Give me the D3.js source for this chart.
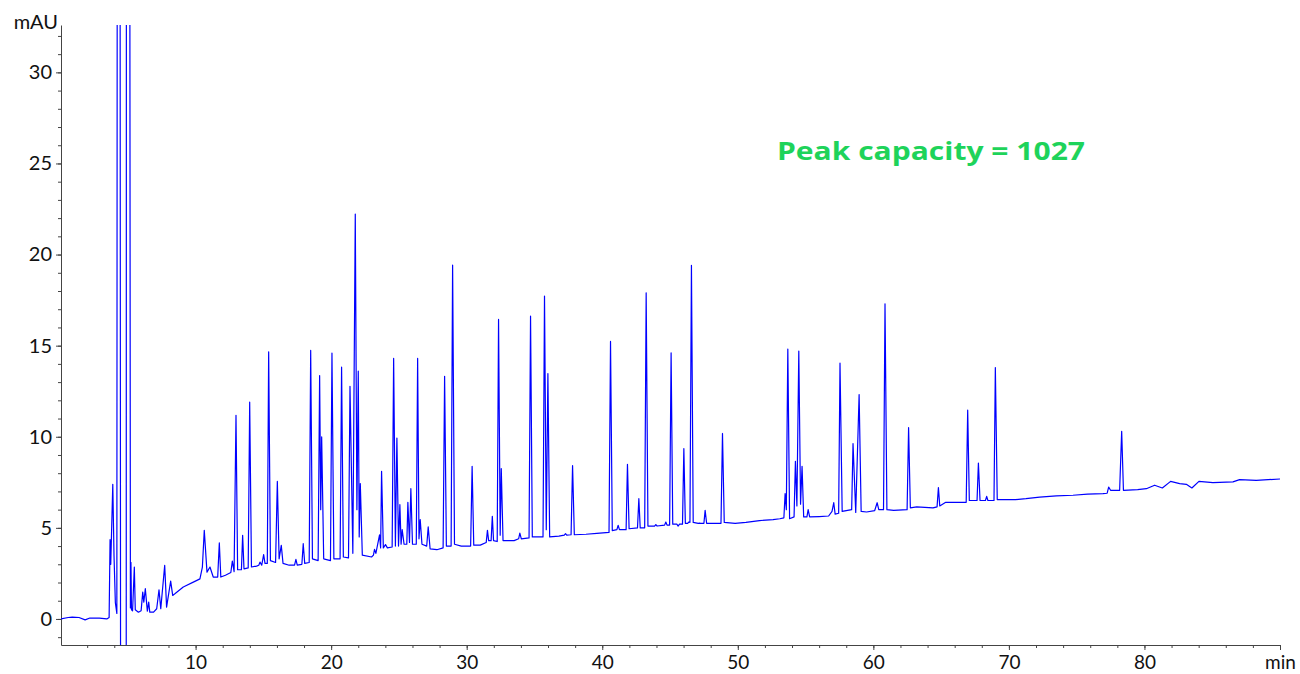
<!DOCTYPE html>
<html>
<head>
<meta charset="utf-8">
<script src="https://cdn.jsdelivr.net/npm/d3@7"></script>
<style>
  body { margin: 0; background: #fff; }
  svg text { font-family: Lato, "Noto Sans", sans-serif; }
  .axis path, .axis line { stroke: #444; }
  .axis text { fill: #111; font-size: 20px; }
  .axis.xlab text { font-size: 19px; }
</style>
</head>
<body>
<svg class="chart" width="1300" height="674"></svg>
<script>
// retention time (min) / absorbance (mAU) vertices
// start of the run, injection disturbance and off-scale solvent peaks
var earlyTrace = [
  [0.07, 0.0], [0.6, 0.08], [0.9, 0.1], [1.4, 0.08], [1.85, -0.05], [2.2, 0.05],
  [2.9, 0.05], [3.45, 0.0], [3.62, 0.08], [3.69, 4.35], [3.74, 3.0], [3.89, 7.39],
  [3.98, 3.5], [4.08, 0.9], [4.19, 0.3], [4.235, 60], [4.41, 60], [4.47, -10],
  [4.88, -10], [4.9, 60], [5.12, 60], [5.19, 0.6], [5.23, 3.1], [5.27, 0.5],
  [5.35, 0.45], [5.48, 2.85], [5.55, 0.5], [5.78, 0.37], [5.98, 0.45], [6.1, 1.47],
  [6.18, 0.92], [6.29, 1.66], [6.44, 0.43], [6.54, 0.92], [6.62, 0.37], [6.9, 0.37],
  [7.13, 0.56], [7.3, 1.6], [7.43, 0.56], [7.72, 2.94], [7.86, 0.65], [8.16, 2.08],
  [8.31, 1.29], [8.47, 1.38], [9.09, 1.75], [9.83, 2.02], [10.32, 2.2], [10.5, 2.85],
  [10.64, 4.86], [10.84, 2.57], [11.06, 2.85], [11.3, 2.3]
]

// peak apexes
var apexes = [
  [11.75, 4.17], [12.71, 3.18], [12.98, 11.18], [13.47, 4.59], [13.99, 11.9],
  [14.75, 3.12], [15.02, 3.53], [15.39, 14.66], [16.03, 7.55], [16.32, 4.04],
  [17.4, 3.27], [17.94, 4.13], [18.49, 14.74], [19.15, 13.36], [19.3, 9.99],
  [20.06, 14.59], [20.77, 13.82], [21.39, 12.77], [21.78, 22.22], [22.0, 13.6],
  [22.15, 7.43], [23.2, 3.82], [23.57, 4.62], [23.72, 8.1], [24.01, 4.08],
  [24.61, 14.3], [24.85, 9.93], [25.07, 6.27], [25.24, 4.9], [25.66, 6.4],
  [25.88, 7.15], [26.38, 14.3], [26.57, 5.45], [27.16, 5.05], [28.37, 13.32],
  [28.96, 19.42], [30.4, 8.38], [31.53, 4.86], [31.89, 5.63], [32.35, 16.44],
  [32.55, 8.25], [33.92, 4.71], [34.71, 16.62], [35.74, 17.72], [35.99, 13.47],
  [37.29, 4.68], [37.81, 8.42], [40.61, 15.23], [41.17, 5.14], [41.86, 8.49],
  [42.7, 6.6], [43.24, 17.9], [43.95, 5.18], [44.69, 5.32], [45.08, 14.6],
  [45.6, 5.1], [46.02, 9.35], [46.39, 5.32], [46.58, 19.41], [47.17, 5.26],
  [47.59, 5.96], [48.87, 10.18], [53.49, 6.88], [53.69, 14.81], [54.25, 8.65],
  [54.5, 14.7], [54.74, 8.38], [55.19, 6.0], [57.08, 6.38], [57.54, 14.04],
  [58.5, 9.63], [58.95, 12.32], [60.28, 6.38], [60.86, 17.3], [62.6, 10.5],
  [64.8, 7.21], [66.96, 11.46], [67.75, 8.56], [68.36, 6.73], [69.0, 13.8],
  [77.36, 7.24], [78.32, 10.3]
]

// baseline and valleys between peaks
var valleys = [
  [11.63, 2.3], [11.86, 2.3], [12.2, 2.4], [12.6, 2.55], [12.84, 2.6], [13.1, 2.7],
  [13.38, 2.7], [13.57, 2.75], [13.88, 2.8], [14.12, 2.85], [14.5, 2.9], [14.66, 2.95],
  [14.88, 2.95], [15.12, 3.05], [15.29, 3.05], [15.52, 3.2], [15.9, 3.1], [16.16, 3.3],
  [16.45, 3.05], [16.9, 2.95], [17.3, 2.95], [17.5, 2.95], [17.84, 3.0], [18.05, 3.05],
  [18.38, 3.1], [18.62, 3.3], [19.04, 3.2], [19.23, 6.0], [19.45, 3.3], [19.95, 3.2],
  [20.2, 3.3], [20.66, 3.3], [20.9, 3.4], [21.28, 3.35], [21.6, 3.6], [21.9, 6.0],
  [22.07, 4.5], [22.3, 3.5], [22.98, 3.4], [23.12, 3.5], [23.3, 3.6], [23.65, 3.9],
  [23.85, 3.9], [24.15, 3.9], [24.5, 3.95], [24.74, 4.0], [24.97, 4.0], [25.16, 4.1],
  [25.38, 4.1], [25.58, 4.1], [25.78, 4.2], [26.0, 4.1], [26.28, 4.1], [26.48, 4.4],
  [26.7, 4.1], [27.05, 4.0], [27.3, 3.85], [27.8, 3.8], [28.26, 3.9], [28.5, 4.0],
  [28.85, 4.0], [29.1, 4.1], [29.6, 4.0], [30.29, 4.0], [30.52, 4.05], [31.0, 4.05],
  [31.44, 4.2], [31.62, 4.3], [31.8, 4.3], [31.98, 4.3], [32.25, 4.25], [32.47, 4.6],
  [32.68, 4.3], [33.5, 4.3], [33.83, 4.4], [34.03, 4.4], [34.6, 4.45], [34.84, 4.5],
  [35.63, 4.5], [35.87, 4.9], [36.12, 4.5], [36.8, 4.55], [37.2, 4.6], [37.38, 4.6],
  [37.7, 4.62], [37.94, 4.62], [38.8, 4.65], [39.6, 4.7], [40.5, 4.75], [40.74, 4.85],
  [41.08, 4.9], [41.27, 4.9], [41.76, 4.9], [41.98, 4.95], [42.6, 5.0], [42.8, 5.0],
  [43.13, 5.0], [43.37, 5.1], [43.86, 5.1], [44.05, 5.1], [44.6, 5.15], [44.78, 5.15],
  [44.97, 5.15], [45.2, 5.2], [45.5, 5.2], [45.7, 5.2], [45.92, 5.2], [46.13, 5.25],
  [46.3, 5.25], [46.47, 5.3], [46.71, 5.3], [47.08, 5.25], [47.26, 5.25], [47.5, 5.25],
  [47.7, 5.25], [48.76, 5.25], [49.0, 5.3], [49.8, 5.25], [50.6, 5.3], [51.6, 5.4],
  [52.6, 5.45], [53.1, 5.5], [53.4, 5.55], [53.58, 6.0], [53.82, 5.5], [54.15, 5.6],
  [54.36, 6.2], [54.63, 6.3], [54.86, 5.6], [55.1, 5.6], [55.3, 5.6], [56.0, 5.62],
  [56.7, 5.65], [56.95, 5.9], [57.18, 5.75], [57.44, 5.8], [57.7, 5.9], [58.0, 5.95],
  [58.4, 6.0], [58.7, 5.85], [59.1, 5.9], [59.5, 5.87], [60.1, 5.95], [60.4, 6.0],
  [60.75, 6.0], [61.0, 6.0], [61.5, 5.96], [62.49, 6.0], [62.73, 6.1], [63.2, 6.15],
  [64.4, 6.1], [64.7, 6.15], [64.9, 6.2], [65.34, 6.4], [66.0, 6.4], [66.85, 6.4],
  [67.08, 6.5], [67.65, 6.5], [67.87, 6.5], [68.27, 6.5], [68.45, 6.5], [68.9, 6.5],
  [69.14, 6.55], [69.74, 6.55], [70.5, 6.55], [71.26, 6.6], [72.27, 6.69], [73.5, 6.75],
  [74.73, 6.79], [75.8, 6.85], [76.94, 6.88], [77.25, 6.9], [77.5, 7.06], [78.17, 7.06],
  [78.45, 7.06], [79.5, 7.1], [80.14, 7.15], [80.75, 7.34], [81.32, 7.19], [81.93, 7.55],
  [82.6, 7.43], [83.09, 7.39], [83.5, 7.19], [84.02, 7.55], [85.05, 7.48], [86.53, 7.52],
  [87.02, 7.65], [88.25, 7.61], [90.0, 7.68]
]

var yMajor = [0, 5, 10, 15, 20, 25, 30]
var xMajor = [10, 20, 30, 40, 50, 60, 70, 80, 90]

var trace = earlyTrace.concat(apexes, valleys).sort(function(a, b) { return a[0] - b[0] })

var chart = d3.select(".chart"),
    plotLeft = 61, plotRight = 1280, plotTop = 25, plotBottom = 645

var x = d3.scaleLinear().domain([0.07, 90]).range([plotLeft, plotRight])
var y = d3.scaleLinear().domain([-1.43, 32.6]).range([plotBottom, plotTop])

chart.append("defs").append("clipPath").attr("id", "plot")
  .append("rect")
    .attr("x", plotLeft).attr("y", plotTop)
    .attr("width", plotRight - plotLeft).attr("height", plotBottom - plotTop)

// minor ticks first, major on top
chart.append("g")
    .attr("class", "axis")
    .attr("transform", "translate(" + plotLeft + ",0)")
    .call(d3.axisLeft(y).tickValues(d3.range(-1, 33, 1)).tickSize(3).tickFormat(""))
    .select(".domain").remove()

chart.append("g")
    .attr("class", "axis")
    .attr("transform", "translate(" + plotLeft + ",0)")
    .call(d3.axisLeft(y).tickValues(yMajor).tickSize(5).tickSizeOuter(0).tickPadding(4))

chart.append("g")
    .attr("class", "axis")
    .attr("transform", "translate(0," + plotBottom + ")")
    .call(d3.axisBottom(x).tickValues(d3.range(2, 90, 2)).tickSize(3).tickFormat(""))
    .select(".domain").remove()

chart.append("g")
    .attr("class", "axis xlab")
    .attr("transform", "translate(0," + plotBottom + ")")
    .call(d3.axisBottom(x).tickValues(xMajor).tickSize(5).tickSizeOuter(0).tickPadding(6)
      .tickFormat(function(d) { return d === 90 ? "min" : d }))

chart.append("text")
    .attr("x", 58)
    .attr("y", 29)
    .attr("text-anchor", "end")
    .attr("fill", "#111")
    .style("font-size", "20px")
    .text("mAU")

var line = d3.line()
    .x(function(d) { return x(d[0]) })
    .y(function(d) { return y(d[1]) })

chart.append("path")
    .datum(trace)
    .attr("clip-path", "url(#plot)")
    .attr("fill", "none")
    .attr("stroke", "#0000ff")
    .attr("stroke-width", 1.2)
    .attr("stroke-linejoin", "round")
    .attr("d", line)

chart.append("text")
    .attr("x", 777)
    .attr("y", 160)
    .attr("fill", "#1ed35a")
    .attr("textLength", 308)
    .attr("lengthAdjust", "spacingAndGlyphs")
    .style("font-family", "'Open Sans', Lato, sans-serif")
    .style("font-size", "25px")
    .style("font-weight", "bold")
    .text("Peak capacity = 1027")
</script>
</body>
</html>
